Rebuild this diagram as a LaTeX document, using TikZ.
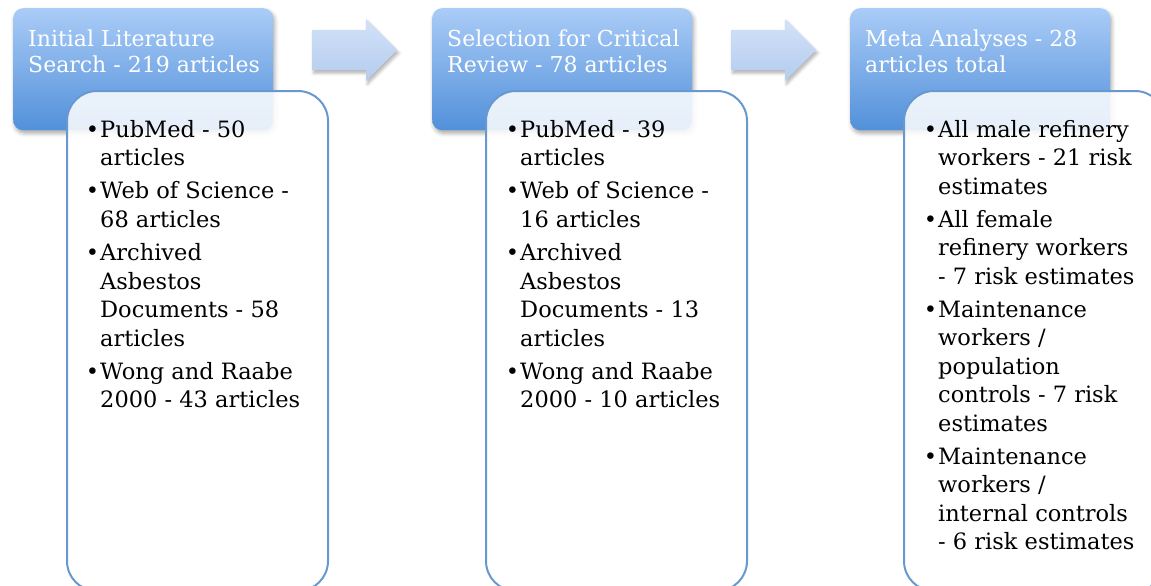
\documentclass[tikz,border=0pt]{standalone}
\usepackage{fontspec}
\setmainfont{DejaVu Serif}
\usetikzlibrary{shapes.arrows,shadows.blur}

\definecolor{hdtop}{RGB}{170,204,247}
\definecolor{hdbot}{RGB}{82,144,218}
\definecolor{boxline}{RGB}{104,152,208}
\definecolor{arrtop}{RGB}{210,226,248}
\definecolor{arrbot}{RGB}{180,204,239}

\newcommand\itm[1]{\par\vspace{4.5pt}\noindent\llap{•\kern1pt}#1}
\newcommand\firstitm[1]{\noindent\llap{•\kern1pt}#1}

\begin{document}
\begin{tikzpicture}[x=1pt,y=-1pt,
  header/.style={rectangle, rounded corners=10pt, top color=hdtop, bottom color=hdbot,
    draw=none, minimum width=260pt, minimum height=122pt, anchor=north west, inner sep=0pt,
    blur shadow={shadow xshift=1.5pt, shadow yshift=-3pt, shadow blur radius=4pt, shadow opacity=35}},
  content/.style={rectangle, rounded corners=30pt, fill=white, fill opacity=0.86,
    draw=boxline, line width=2pt, minimum width=261pt, minimum height=500pt,
    anchor=north west, inner sep=0pt},
  flowarrow/.style={single arrow, single arrow head extend=11pt, single arrow tip angle=90,
    minimum height=85pt, inner xsep=0pt, inner ysep=20pt, draw=none,
    top color=arrtop, bottom color=arrbot, anchor=tail,
    blur shadow={shadow xshift=1.5pt, shadow yshift=-3pt, shadow blur radius=3pt, shadow opacity=30}},
  hdtext/.style={anchor=base west, inner sep=0pt, text=white},
  bodytext/.style={anchor=base west, inner sep=0pt, text=black},
]
\useasboundingbox (0,0) rectangle (1151,586);
\clip (0,0) rectangle (1151,586);

% column 1
\node[header] (h1) at (13,8) {};
\node[hdtext] (ht1) at (28,47) {\parbox[t]{250pt}{\fontsize{22}{26}\selectfont\raggedright
  Initial Literature\\Search - 219 articles}};
\node[content] (c1) at (66,90) {};
\node[bodytext] (ct1) at (100,137) {\parbox[t]{240pt}{\fontsize{22.5}{28.6}\selectfont\raggedright
  \firstitm{PubMed - 50\\articles}
  \itm{Web of Science -\\68 articles}
  \itm{Archived\\Asbestos\\Documents - 58\\articles}
  \itm{Wong and Raabe\\2000 - 43 articles}}};

\node[flowarrow] (a1) at (312,50) {};

% column 2
\node[header] (h2) at (432,8) {};
\node[hdtext] (ht2) at (447,47) {\parbox[t]{250pt}{\fontsize{22}{26}\selectfont\raggedright
  Selection for Critical\\Review - 78 articles}};
\node[content] (c2) at (485,90) {};
\node[bodytext] (ct2) at (520,137) {\parbox[t]{240pt}{\fontsize{22.5}{28.6}\selectfont\raggedright
  \firstitm{PubMed - 39\\articles}
  \itm{Web of Science -\\16 articles}
  \itm{Archived\\Asbestos\\Documents - 13\\articles}
  \itm{Wong and Raabe\\2000 - 10 articles}}};

\node[flowarrow] (a2) at (731,50) {};

% column 3
\node[header] (h3) at (850,8) {};
\node[hdtext] (ht3) at (865,47) {\parbox[t]{250pt}{\fontsize{22}{26}\selectfont\raggedright
  Meta Analyses - 28\\articles total}};
\node[content] (c3) at (903,90) {};
\node[bodytext] (ct3) at (938,137) {\parbox[t]{240pt}{\fontsize{22.5}{28.5}\selectfont\raggedright
  \firstitm{All male refinery\\workers - 21 risk\\estimates}
  \itm{All female\\refinery workers\\- 7 risk estimates}
  \itm{Maintenance\\workers /\\population\\controls - 7 risk\\estimates}
  \itm{Maintenance\\workers /\\internal controls\\- 6 risk estimates}}};
\end{tikzpicture}
\end{document}
